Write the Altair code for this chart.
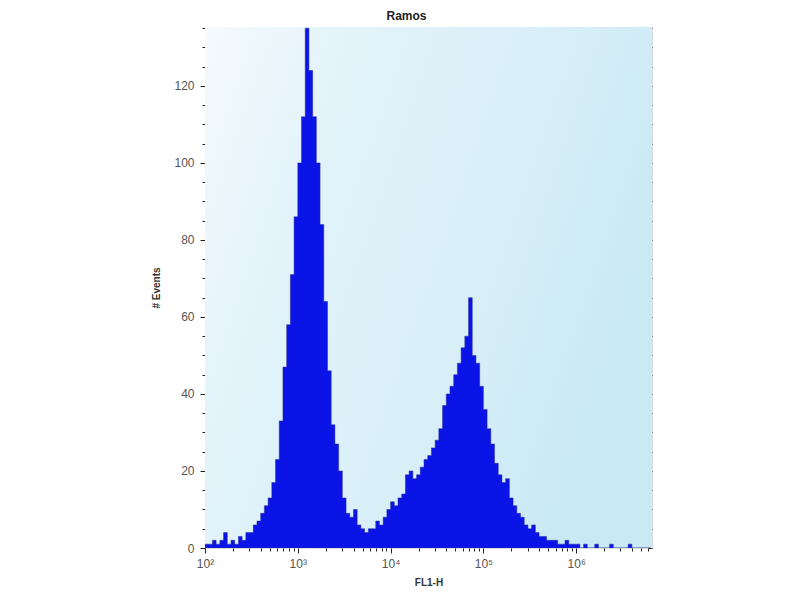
import altair as alt
import numpy as np
import pandas as pd

# ---- data -----------------------------------------------------------------
title_text = "Ramos"
x_title = "FL1-H"
y_title = "# Events"

# channel width (log10 units) and first channel start
channel_start_log = 2.0
channel_width_log = 0.04

# events per channel, left to right (10^2 ... 10^6.8)
events = [
    1, 1, 2, 1, 2, 4, 1, 2, 1, 3,
    2, 4, 4, 6, 7, 9, 11, 13, 17, 23,
    33, 47, 58, 71, 86, 100, 112, 135, 124, 112,
    100, 84, 64, 46, 32, 27, 20, 13, 9, 8,
    10, 6, 5, 4, 5, 5, 7, 6, 8, 10,
    12, 11, 13, 14, 19, 20, 18, 19, 21, 23,
    24, 26, 28, 31, 37, 40, 42, 45, 48, 52,
    55, 65, 50, 48, 42, 36, 31, 27, 22, 19,
    17, 18, 13, 11, 9, 8, 6, 5, 6, 4,
    3, 3, 2, 2, 2, 1, 1, 2, 1, 1,
    1, 0, 1, 0, 0, 1, 0, 0, 0, 1,
    0, 0, 0, 0, 1, 0, 0, 0, 0, 0,
]

x_major = [1e2, 1e3, 1e4, 1e5, 1e6]
x_label_text = ["10\u00b2", "10\u00b3", "10\u2074", "10\u2075", "10\u2076"]
y_major = [0, 20, 40, 60, 80, 100, 120]
y_minor = [v for v in range(0, 136, 5) if v % 20 != 0]
x_minor = [m * 10 ** d for d in range(2, 7) for m in range(2, 10)]
x_all = sorted(x_major + x_minor)

x_domain = [100, 10 ** 6.817]
y_domain = [0, 135.3]

# ---- table -----------------------------------------------------------------
n = len(events)
edges_log = np.round(channel_start_log + channel_width_log * np.arange(n + 1), 4)
df = pd.DataFrame({
    "x": 10 ** edges_log,
    "count": events + [events[-1]],
})
bg_df = pd.DataFrame({"x": [x_domain[0]], "x2": [x_domain[1]],
                      "y": [y_domain[0]], "y2": [y_domain[1]]})

label_expr = " : ".join(
    f"datum.value == {int(v)} ? '{t}'" for v, t in zip(x_major, x_label_text)
) + " : ''"

xs = alt.Scale(type="log", domain=x_domain, nice=False)
ys = alt.Scale(domain=y_domain, nice=False, zero=True)

font = "Liberation Sans"

bg = alt.LinearGradient(
    gradient="linear",
    stops=[
        alt.GradientStop(color="#f5fafd", offset=0),
        alt.GradientStop(color="#e2f3fa", offset=0.3),
        alt.GradientStop(color="#d8eff8", offset=0.7),
        alt.GradientStop(color="#c9e9f5", offset=1),
    ],
    x1=0, y1=0, x2=1, y2=0.4,
)

background = alt.Chart(bg_df).mark_rect(color=bg, opacity=1).encode(
    x=alt.X("x:Q", scale=xs, axis=None),
    x2="x2:Q",
    y=alt.Y("y:Q", scale=ys, axis=None),
    y2="y2:Q",
)

base = alt.Chart(df)

area = base.mark_area(
    interpolate="step-after", color="#0a14e6", stroke="#2a2a9a",
    strokeWidth=0.5, clip=True, opacity=1,
).encode(
    x=alt.X("x:Q", scale=xs, axis=alt.Axis(
        orient="bottom", values=x_major, labelExpr=label_expr, title=x_title,
        tickSize=5, domain=False, grid=False, labelFontSize=12,
        labelColor="#555555", labelFont=font, labelPadding=5,
        titleFont=font, titleFontSize=10, titleFontWeight="bold",
        titleColor="#333333", titlePadding=8, tickColor="#222222",
        labelFlush=False,
    )),
    y=alt.Y("count:Q", scale=ys, axis=alt.Axis(
        orient="left", values=y_major, title=y_title, tickSize=5,
        domain=False, grid=False, labelFontSize=12, labelColor="#555555",
        labelFont=font, labelPadding=6, titleFont=font, titleFontSize=10,
        titleFontWeight="bold", titleColor="#333333", titlePadding=12,
        tickColor="#222222", labelFlush=False,
    )),
)

minor = base.mark_point(opacity=0).encode(
    x=alt.X("x:Q", scale=xs, axis=alt.Axis(
        orient="bottom", values=x_minor, labels=False, title=None,
        tickSize=3, domain=False, grid=False, tickColor="#222222",
    )),
    y=alt.Y("count:Q", scale=ys, axis=alt.Axis(
        orient="left", values=y_minor, labels=False, title=None,
        tickSize=3, domain=False, grid=False, tickColor="#222222",
    )),
)

inner = base.mark_point(opacity=0).encode(
    x=alt.X("x:Q", scale=xs, axis=alt.Axis(
        orient="top", values=x_all, labels=False, title=None,
        tickSize=4, offset=-4, domain=False, grid=False, tickColor="#333333",
    )),
    y=alt.Y("count:Q", scale=ys, axis=alt.Axis(
        orient="right", values=y_minor + y_major, labels=False, title=None,
        tickSize=4, offset=-4, domain=False, grid=False, tickColor="#333333",
    )),
)

chart = alt.layer(background, area, minor, inner).resolve_axis(
    x="independent", y="independent"
).properties(
    width=447,
    height=521,
    title=alt.TitleParams(
        title_text, font=font, fontSize=12, fontWeight="bold",
        color="#222222", offset=2, dx=-22,
    ),
    autosize=alt.AutoSizeParams(type="none"),
    padding={"left": 197, "top": 19, "right": 120, "bottom": 44},
).configure_view(
    stroke="#222222", strokeWidth=1.5,
).configure(background="white")

chart.save("out.html", embed_options={"renderer": "svg", "actions": False})
